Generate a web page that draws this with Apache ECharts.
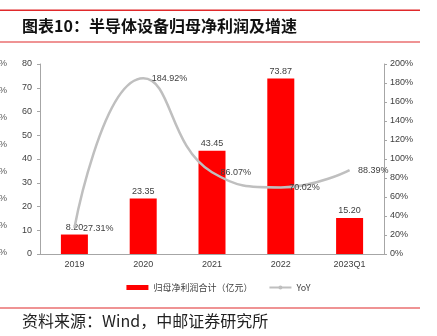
<!DOCTYPE html>
<html><head><meta charset="utf-8">
<script src="https://cdn.jsdelivr.net/npm/echarts@6/dist/echarts.min.js"></script>
<style>html,body{margin:0;padding:0;background:#fff}#c{width:437px;height:336px}</style>
</head><body><div id="c"></div>
<script>
var categories = ['2019','2020','2021','2022','2023Q1'];
var profit = [8.20, 23.35, 43.45, 73.87, 15.20];
var yoy = [27.31, 184.92, 86.07, 70.02, 88.39];
var title = '图表10：半导体设备归母净利润及增速';
var source = '资料来源：Wind，中邮证券研究所';
var barName = '归母净利润合计（亿元）';
var lineName = 'YoY';

var chart = echarts.init(document.getElementById('c'), null, {renderer:'canvas'});
var font = 'Liberation Sans, Arial, sans-serif';
var cjk = 'Noto Sans CJK SC, sans-serif';
var pctMarks = [];
for (var i = 0; i < 8; i++) {
  pctMarks.push({type:'text', left:-1, top:59 + i*27, style:{text:'%', font:'9px ' + font, fill:'#595959'}});
}
chart.setOption({
  animation:false,
  textStyle:{fontFamily:font},
  graphic:[
    {type:'rect', shape:{x:0,y:9.5,width:420,height:1.5}, style:{fill:'#e0292b'}},
    {type:'text', left:22, top:18, style:{text:title, font:'bold 16px ' + cjk, fill:'#111'}},
    {type:'rect', shape:{x:0,y:41.5,width:420,height:1}, style:{fill:'#e0292b'}},
    {type:'rect', shape:{x:0,y:307.5,width:420,height:1}, style:{fill:'#e0292b'}},
    {type:'text', left:22, top:313, style:{text:source, font:'16px ' + cjk, fill:'#222'}}
  ].concat(pctMarks),
  grid:{left:40, right:53, top:64, bottom:82},
  legend:{
    top:278, left:'center', itemGap:16,
    itemWidth:22, itemHeight:5,
    textStyle:{fontSize:9, color:'#404040', fontFamily:cjk},
    data:[{name:barName, icon:'rect'}, {name:lineName}]
  },
  xAxis:{
    type:'category', data:categories,
    axisLine:{lineStyle:{color:'#a6a6a6'}},
    axisTick:{show:false},
    axisLabel:{fontSize:9, color:'#404040', margin:6}
  },
  yAxis:[
    {type:'value', min:0, max:80, interval:10,
     axisLine:{show:true, lineStyle:{color:'#a6a6a6'}},
     axisTick:{show:true, length:3, lineStyle:{color:'#a6a6a6'}},
     splitLine:{show:false},
     axisLabel:{fontSize:9, color:'#404040', margin:8}},
    {type:'value', min:0, max:200, interval:20, position:'right',
     axisLine:{show:true, lineStyle:{color:'#a6a6a6'}},
     axisTick:{show:true, length:3, lineStyle:{color:'#a6a6a6'}},
     splitLine:{show:false},
     axisLabel:{fontSize:9, color:'#404040', margin:6, formatter:'{value}%'}}
  ],
  series:[
    {name:barName, type:'bar', data:profit, barWidth:27, itemStyle:{color:'#ff0000'},
     label:{show:true, position:'top', distance:3, fontSize:9, color:'#404040',
       formatter:function(p){return p.value.toFixed(2);}}},
    {name:lineName, type:'line', yAxisIndex:1, data:yoy, smooth:0.5, symbol:'none',
     lineStyle:{color:'#bfbfbf', width:2.5}, itemStyle:{color:'#bfbfbf'}, z:3},
    {name:'YoY标签', type:'scatter', yAxisIndex:1, data:yoy, symbol:'circle', symbolSize:1,
     itemStyle:{color:'rgba(0,0,0,0)', opacity:1}, z:4, silent:true,
     label:{show:true, position:'right', distance:8, fontSize:9, color:'#404040',
       formatter:function(p){return p.value.toFixed(2)+'%';}}}
  ]
});
</script></body></html>
